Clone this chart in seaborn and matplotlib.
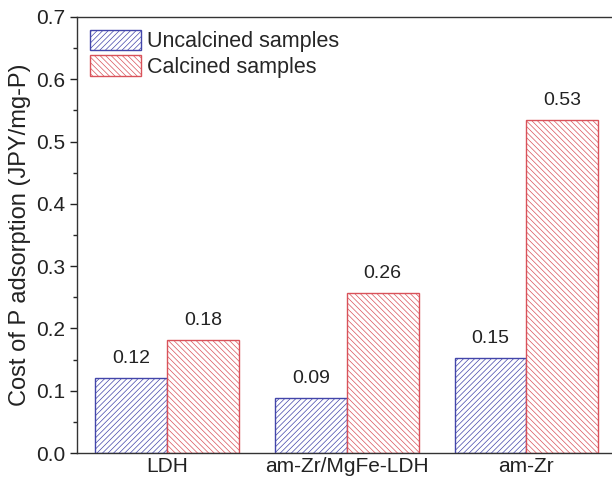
import numpy as np
import pandas as pd
import seaborn as sns
import matplotlib.pyplot as plt
from matplotlib.ticker import MultipleLocator

# values
materials = ["LDH", "am-Zr/MgFe-LDH", "am-Zr"]
uncalcined = [0.121, 0.089, 0.152]
calcined = [0.181, 0.257, 0.534]
series = ["Uncalcined samples", "Calcined samples"]

df = pd.DataFrame({
    "material": materials * 2,
    "cost": uncalcined + calcined,
    "kind": [series[0]] * 3 + [series[1]] * 3,
})

sns.set_style("ticks")
plt.rcParams["font.family"] = ["Liberation Sans", "DejaVu Sans"]
plt.rcParams["hatch.linewidth"] = 0.5

fig = plt.figure(figsize=(6.12, 4.82), dpi=100)
ax = fig.add_axes([0.126, 0.060, 0.881, 0.905])

edge = {series[0]: "#4346aa", series[1]: "#d9525a"}
hatches = {series[0]: "//////", series[1]: "\\\\\\\\\\\\"}

sns.barplot(data=df, x="material", y="cost", hue="kind", hue_order=series,
            order=materials, width=0.8, ax=ax, errorbar=None,
            palette=["white", "white"], saturation=1)

for cont, name in zip(ax.containers, series):
    for bar in cont:
        bar.set_facecolor("white")
        bar.set_edgecolor(edge[name])
        bar.set_hatch(hatches[name])
        bar.set_linewidth(1.0)
    ax.bar_label(cont, labels=[f"{v:.2f}" for v in cont.datavalues],
                 padding=8, fontsize=14, color="#222222")

ax.set_ylim(0, 0.7)
ax.set_xlim(-0.5, 2.5)
ax.yaxis.set_major_locator(MultipleLocator(0.1))
ax.yaxis.set_minor_locator(MultipleLocator(0.05))
ax.set_yticklabels([f"{t:.1f}" for t in ax.get_yticks()])
ax.tick_params(axis="y", which="major", length=5, width=1, labelsize=15,
               direction="out", colors="#222222")
ax.tick_params(axis="y", which="minor", length=3, width=1)
ax.tick_params(axis="x", length=0, labelsize=15, pad=3, colors="#222222")
ax.set_xlabel("")
ax.set_ylabel("Cost of P adsorption (JPY/mg-P)", fontsize=17, labelpad=4,
              color="#222222")
for s in ax.spines.values():
    s.set_color("#333333")
    s.set_linewidth(1.0)

leg = ax.legend(loc="upper left", frameon=False, fontsize=15.5,
                handlelength=2.35, handleheight=1.1, borderaxespad=0.4,
                borderpad=0.2, labelspacing=0.12, handletextpad=0.3)
for h, name in zip(leg.legend_handles, series):
    h.set_facecolor("white")
    h.set_edgecolor(edge[name])
    h.set_hatch(hatches[name])

fig.savefig("out.png", dpi=100)
